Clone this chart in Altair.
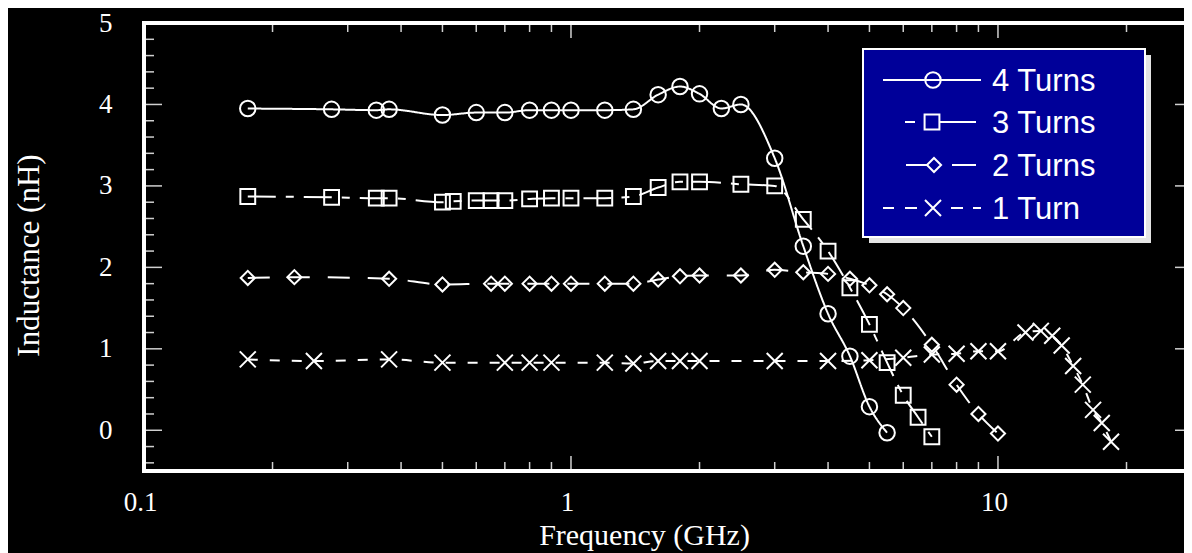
import altair as alt
import pandas as pd

# ---------------- data ----------------
series_names = ["4 Turns", "3 Turns", "2 Turns", "1 Turn"]

freq_4 = [0.175, 0.275, 0.35, 0.375, 0.5, 0.6, 0.7, 0.8, 0.9, 1.0, 1.2, 1.4,
          1.6, 1.8, 2.0, 2.25, 2.5, 3.0, 3.5, 4.0, 4.5, 5.0, 5.5]
ind_4 = [3.95, 3.94, 3.93, 3.94, 3.87, 3.90, 3.90, 3.93, 3.93, 3.93, 3.93, 3.94,
         4.12, 4.22, 4.13, 3.95, 4.00, 3.34, 2.26, 1.43, 0.91, 0.29, -0.03]

freq_3 = [0.175, 0.275, 0.35, 0.375, 0.5, 0.53, 0.6, 0.65, 0.7, 0.8, 0.9, 1.0,
          1.2, 1.4, 1.6, 1.8, 2.0, 2.5, 3.0, 3.5, 4.0, 4.5, 5.0, 5.5, 6.0, 6.5, 7.0]
ind_3 = [2.87, 2.86, 2.85, 2.85, 2.80, 2.81, 2.82, 2.82, 2.82, 2.84, 2.85, 2.85,
         2.85, 2.87, 2.98, 3.05, 3.05, 3.02, 3.00, 2.59, 2.20, 1.75, 1.30, 0.83,
         0.43, 0.16, -0.08]

freq_2 = [0.175, 0.225, 0.375, 0.5, 0.65, 0.7, 0.8, 0.9, 1.0, 1.2, 1.4, 1.6,
          1.8, 2.0, 2.5, 3.0, 3.5, 4.0, 4.5, 5.0, 5.5, 6.0, 7.0, 8.0, 9.0, 10.0]
ind_2 = [1.87, 1.88, 1.86, 1.79, 1.80, 1.80, 1.80, 1.80, 1.80, 1.80, 1.80, 1.85,
         1.89, 1.90, 1.90, 1.97, 1.94, 1.92, 1.86, 1.78, 1.67, 1.50, 1.05, 0.56,
         0.20, -0.04]

freq_1 = [0.175, 0.25, 0.375, 0.5, 0.7, 0.8, 0.9, 1.2, 1.4, 1.6, 1.8, 2.0, 3.0,
          4.0, 5.0, 6.0, 7.0, 8.0, 9.0, 10.0, 11.6, 12.6, 13.4, 14.1, 15.0, 15.8,
          16.7, 17.5, 18.4]
ind_1 = [0.87, 0.85, 0.87, 0.83, 0.83, 0.83, 0.83, 0.83, 0.82, 0.85, 0.85, 0.85,
         0.85, 0.85, 0.86, 0.89, 0.93, 0.94, 0.97, 0.97, 1.20, 1.22, 1.16, 1.04,
         0.79, 0.56, 0.25, 0.09, -0.14]

x_labels = [0.1, 1, 10]
x_major_ticks = [1, 10]
x_minor_ticks = [0.2, 0.3, 0.4, 0.5, 0.6, 0.7, 0.8, 0.9,
                 2, 3, 4, 5, 6, 7, 8, 9, 20]
y_labels = [0, 1, 2, 3, 4, 5]
y_minor_ticks = [-0.4, -0.2, 0.2, 0.4, 0.6, 0.8, 1.2, 1.4, 1.6, 1.8,
                 2.2, 2.4, 2.6, 2.8, 3.2, 3.4, 3.6, 3.8, 4.2, 4.4, 4.6, 4.8]

# ---------------- table ----------------
rows = []
for name, fs, ls in zip(series_names, [freq_4, freq_3, freq_2, freq_1],
                        [ind_4, ind_3, ind_2, ind_1]):
    for f, l in zip(fs, ls):
        rows.append({"series": name, "f": f, "L": l})
df = pd.DataFrame(rows)

W, H = 1040, 448
TOP = 15
WHITE = "white"
# the original frame runs past the right edge of the picture (to ~30 GHz);
# the part that fits in the page ends near 27.3 GHz
x_scale = alt.Scale(type="log", domain=[0.1, 27.27], nice=False)
y_scale = alt.Scale(domain=[-0.5, 5], nice=False, zero=False)

x_axis = alt.Axis(values=x_labels, format="~g", title="Frequency (GHz)",
                  labelFlush=False, labelOffset=-4, labelPadding=18,
                  titleX=500, titleY=73, titleBaseline="alphabetic",
                  titleAlign="center", titleFontSize=30, ticks=False, tickSize=0,
                  domain=False, grid=False)
y_axis = alt.Axis(values=y_labels, title="Inductance (nH)", labelPadding=32,
                  titleX=-106, titleY=232, titleBaseline="alphabetic",
                  titleAlign="center", titleAngle=270, ticks=False, tickSize=0,
                  domain=False, grid=False)

X = alt.X("f:Q", scale=x_scale, axis=x_axis)
Y = alt.Y("L:Q", scale=y_scale, axis=y_axis)

dash_range = [[1, 0], [28, 10, 8, 10], [22, 18], [10, 12]]

lines = alt.Chart(df).mark_line(interpolate="monotone", color=WHITE,
                                strokeWidth=2).encode(
    x=X, y=Y,
    strokeDash=alt.StrokeDash("series:N",
                              scale=alt.Scale(domain=series_names, range=dash_range),
                              legend=None),
    detail="series:N",
)

XSHAPE = "M-1,-1L1,1M-1,1L1,-1"
marker_shapes = ["circle", "square", "diamond", XSHAPE]
marker_sizes = [240, 220, 200, 256]

point_layers = []
for name, shp, sz in zip(series_names, marker_shapes, marker_sizes):
    point_layers.append(
        alt.Chart(df).transform_filter(alt.datum.series == name)
        .mark_point(shape=shp, size=sz, filled=False, color=WHITE,
                    strokeWidth=2, opacity=1)
        .encode(x=X, y=Y)
    )


def deco():
    return alt.Chart(pd.DataFrame({"k": [0]}))


# ---------------- frame (top, left, bottom; right edge lies off the picture) ----
frame_layers = [
    deco().mark_rule(color=WHITE, strokeWidth=4).encode(
        x=alt.value(0), x2=alt.value(W), y=alt.value(0)),
    deco().mark_rule(color=WHITE, strokeWidth=4).encode(
        x=alt.value(0), x2=alt.value(W), y=alt.value(H)),
    deco().mark_rule(color=WHITE, strokeWidth=4).encode(
        x=alt.value(0), y=alt.value(-2), y2=alt.value(H + 2)),
]

# ---------------- inward ticks ----------------
tick_color = "#d0d0d0"
xmaj = pd.DataFrame({"f": x_major_ticks})
xmin = pd.DataFrame({"f": x_minor_ticks})
ymaj = pd.DataFrame({"L": y_labels})
ymin = pd.DataFrame({"L": y_minor_ticks})

tick_layers = []
for d, ln in [(xmaj, 15), (xmin, 9)]:
    tick_layers.append(alt.Chart(d).mark_rule(color=tick_color, strokeWidth=1.5).encode(
        x=X, y=alt.value(H - ln), y2=alt.value(H)))
    tick_layers.append(alt.Chart(d).mark_rule(color=tick_color, strokeWidth=1.5).encode(
        x=X, y=alt.value(0), y2=alt.value(ln)))
for d, ln in [(ymaj, 18), (ymin, 10)]:
    tick_layers.append(alt.Chart(d).mark_rule(color=tick_color, strokeWidth=1.5).encode(
        y=Y, x=alt.value(0), x2=alt.value(ln)))
# right-hand ticks: only the ends of the long ones show at the picture's edge
tick_layers.append(alt.Chart(ymaj).mark_rule(color=tick_color, strokeWidth=1.5).encode(
    y=Y, x=alt.value(W - 9), x2=alt.value(W)))

# ---------------- legend box (plot pixel positions) ----------------
dy = TOP - 13
legend_layers = [
    deco().mark_rect(color="#e4e4e4").encode(
        x=alt.value(725), x2=alt.value(1007), y=alt.value(34 - dy), y2=alt.value(222 - dy)),
    deco().mark_rect(fill="#000099", stroke=WHITE, strokeWidth=2).encode(
        x=alt.value(719), x2=alt.value(1001), y=alt.value(28 - dy), y2=alt.value(216 - dy)),
]
row_y = [59 - dy, 101 - dy, 144 - dy, 187 - dy]
marker_x = [789, 788, 790, 789]
segments = [
    [(739, 837)],
    [(761, 771), (796, 832)],
    [(762, 783), (808, 832)],
    [(739, 750), (761, 773), (807, 819), (829, 837)],
]
for name, yy, mx, segs, shp, sz in zip(series_names, row_y, marker_x, segments,
                                       marker_shapes, marker_sizes):
    for a, b in segs:
        legend_layers.append(deco().mark_rule(color=WHITE, strokeWidth=2).encode(
            x=alt.value(a), x2=alt.value(b), y=alt.value(yy)))
    legend_layers.append(deco().mark_point(shape=shp, size=sz, filled=False,
                                           color=WHITE, strokeWidth=2, opacity=1).encode(
        x=alt.value(mx), y=alt.value(yy)))
    legend_layers.append(deco().mark_text(text=name, align="left", baseline="middle",
                                          font="Liberation Sans", fontSize=31,
                                          color=WHITE).encode(
        x=alt.value(848), y=alt.value(yy + 2)))

chart = alt.layer(
    *tick_layers, *frame_layers, lines, *point_layers, *legend_layers
).properties(
    width=W, height=H, background="black",
    padding={"left": 136, "top": TOP, "right": 0, "bottom": 82},
    autosize=alt.AutoSizeParams(type="none"),
).configure_view(
    stroke="transparent", strokeWidth=0
).configure_axis(
    labelColor=WHITE, titleColor=WHITE,
    labelFont="Liberation Serif", titleFont="Liberation Serif",
    labelFontSize=27, titleFontSize=31, titleFontWeight="normal",
)

chart.save("out.html", embed_options={"renderer": "svg", "actions": False})
